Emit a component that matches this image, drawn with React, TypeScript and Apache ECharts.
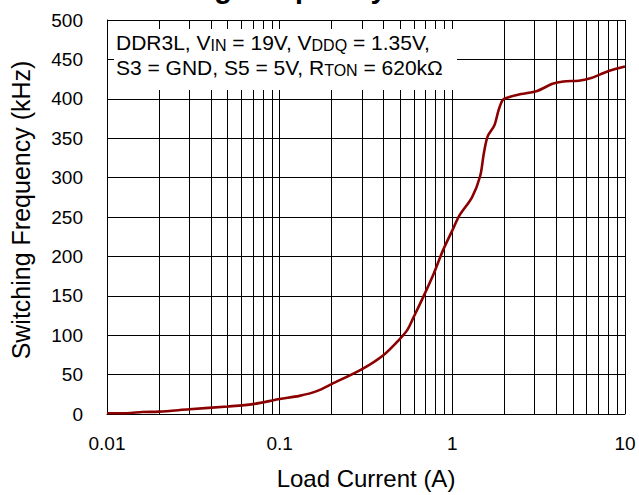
import React, { useEffect, useRef } from "react";
import * as echarts from "echarts";

// Load current (A)
const loadCurrent = [
  0.01, 0.013, 0.016, 0.02, 0.03, 0.05, 0.07, 0.1, 0.13, 0.164, 0.2, 0.3, 0.4,
  0.5, 0.55, 0.6, 0.68, 0.78, 0.88, 1.0, 1.1, 1.3, 1.45, 1.52, 1.6, 1.75, 1.85,
  1.95, 2.05, 2.5, 3.1, 3.8, 4.4, 5.4, 6.3, 7.2, 8.2, 10,
];
// Switching frequency (kHz)
const switchingFreq = [
  1, 1, 2.5, 3, 6, 9.5, 12.5, 19, 23, 29, 38, 57, 75, 96, 107, 124, 149, 178,
  207, 233, 252, 275, 302, 330, 352, 366, 385, 398, 401, 406, 410, 419, 422,
  423, 426, 431, 436, 441,
];

// minor grid positions of the log axis (2..9 within each decade)
const decades = [0.01, 0.1, 1];
const minorMultipliers = [2, 3, 4, 5, 6, 7, 8, 9];

const xTickLabels = ["0.01", "0.1", "1", "10"];

const FONT = "'Liberation Sans', Arial, sans-serif";

export default function App() {
  const ref = useRef<HTMLDivElement>(null);

  useEffect(() => {
    if (!ref.current) return;
    const chart = echarts.init(ref.current, undefined, { renderer: "svg" });

    const minorLines: { xAxis: number }[] = [];
    decades.forEach((d) =>
      minorMultipliers.forEach((m) => minorLines.push({ xAxis: +(d * m).toPrecision(3) }))
    );

    const sub = { fontSize: 16, fontFamily: FONT, fill: "#000", verticalAlign: "bottom" };

    chart.setOption({
      animation: false,
      backgroundColor: "#fff",
      grid: { left: 107, right: 14, top: 20, bottom: 75 },
      xAxis: {
        type: "log",
        logBase: 10,
        min: 0.01,
        max: 10,
        name: "Load Current (A)",
        nameLocation: "middle",
        nameGap: 52,
        nameTextStyle: { fontFamily: FONT, fontSize: 24, color: "#000" },
        axisLine: { show: true, lineStyle: { color: "#000", width: 1 } },
        axisTick: { show: false },
        axisLabel: {
          fontFamily: FONT,
          fontSize: 19,
          color: "#000",
          margin: 20,
          formatter: (v: number) => {
            const s = String(+v.toPrecision(3));
            return xTickLabels.indexOf(s) >= 0 ? s : "";
          },
        },
        splitLine: { show: true, lineStyle: { color: "#000", width: 1 } },
      },
      yAxis: {
        type: "value",
        min: 0,
        max: 500,
        interval: 50,
        name: "Switching Frequency (kHz)",
        nameLocation: "middle",
        nameGap: 74,
        nameTextStyle: {
          fontFamily: FONT,
          fontSize: 25,
          color: "#000",
          padding: [0, 0, 0, 14],
        },
        axisLine: { show: true, lineStyle: { color: "#000", width: 1 } },
        axisTick: { show: false },
        axisLabel: { fontFamily: FONT, fontSize: 19, color: "#000", margin: 24 },
        splitLine: { show: true, lineStyle: { color: "#000", width: 1 } },
      },
      series: [
        {
          name: "minor grid",
          type: "line",
          data: [],
          z: 1,
          silent: true,
          markLine: {
            silent: true,
            symbol: ["none", "none"],
            label: { show: false },
            lineStyle: { color: "#000", width: 1, type: "solid" },
            emphasis: { disabled: true },
            data: minorLines,
          },
        },
        {
          name: "Switching Frequency",
          type: "line",
          z: 5,
          data: loadCurrent.map((x, i) => [x, switchingFreq[i]]),
          showSymbol: false,
          smooth: 0.3,
          lineStyle: { color: "#8b0000", width: 2.6 },
        },
      ],
      graphic: [
        {
          type: "text",
          z: 100,
          x: 95,
          y: 2,
          style: {
            text: "Switching Frequency vs Load Current",
            font: `bold 29px ${FONT}`,
            fill: "#000",
            textAlign: "left",
            textVerticalAlign: "bottom",
          },
        },
        {
          type: "rect",
          z: 100,
          shape: { x: 114, y: 29, width: 343, height: 61 },
          style: { fill: "#fff" },
        },
        {
          type: "text",
          z: 101,
          x: 116,
          y: 42.5,
          style: {
            text: "DDR3L, V{s|IN} = 19V, V{s|DDQ} = 1.35V,",
            font: `21px ${FONT}`,
            fill: "#000",
            textAlign: "left",
            textVerticalAlign: "middle",
            rich: { s: sub },
          },
        },
        {
          type: "text",
          z: 101,
          x: 116,
          y: 67.5,
          style: {
            text: "S3 = GND, S5 = 5V, R{s|TON} = 620kΩ",
            font: `21px ${FONT}`,
            fill: "#000",
            textAlign: "left",
            textVerticalAlign: "middle",
            rich: { s: sub },
          },
        },
      ],
    });

    return () => chart.dispose();
  }, []);

  return (
    <div
      ref={ref}
      style={{ position: "fixed", left: 0, top: 0, width: 639, height: 495 }}
    />
  );
}
